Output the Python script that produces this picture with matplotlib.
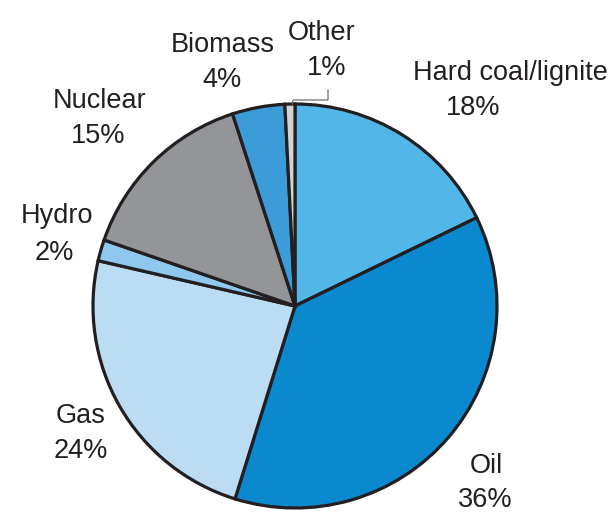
import matplotlib
matplotlib.use("Agg")
import matplotlib.pyplot as plt

# data
labels = ["Hard coal/lignite", "Oil", "Gas", "Hydro", "Nuclear", "Biomass", "Other"]
pct_labels = [18, 36, 24, 2, 15, 4, 1]
shares = [17.8, 37.0, 23.8, 1.7, 14.7, 4.2, 0.8]
colors = ["#53b6e8", "#0a89cf", "#bcdcf4", "#8ec8ee", "#939598", "#3b9cd9", "#d1d3d4"]

# label positions in pixels (x centre, baseline)
name_pos = [(510, 80), (486, 473), (81, 423), (57, 223), (100, 108), (223, 52), (322, 40)]
pct_pos = [(473, 115), (485, 507), (81, 458), (54, 260), (98, 143), (222, 87), (327, 75)]

W, H = 615, 512
fig = plt.figure(figsize=(W / 100, H / 100), dpi=100)
ax = fig.add_axes([0, 0, 1, 1])

cx, cy, r = 295, H - 306, 202
ax.pie(shares, colors=colors, startangle=90, counterclock=False,
       center=(cx, cy), radius=r, frame=True,
       wedgeprops=dict(edgecolor="#231f20", linewidth=2.3, joinstyle="miter"))
ax.set_xlim(0, W)
ax.set_ylim(0, H)
ax.set_aspect("equal")
ax.axis("off")

fs = 19.5
for lab, p, (nx, ny), (px, py) in zip(labels, pct_labels, name_pos, pct_pos):
    ax.text(nx, H - ny, lab, ha="center", va="baseline", fontsize=fs,
            family="Liberation Sans", color="#231f20")
    ax.text(px, H - py, f"{p}%", ha="center", va="baseline", fontsize=fs,
            family="Liberation Sans", color="#231f20")

# leader line for "Other"
ax.plot([328, 328, 293, 292], [H - 90, H - 100, H - 100, H - 104],
        color="#6d6e71", lw=0.9, solid_joinstyle="miter")

plt.savefig("out.png", dpi=100)
